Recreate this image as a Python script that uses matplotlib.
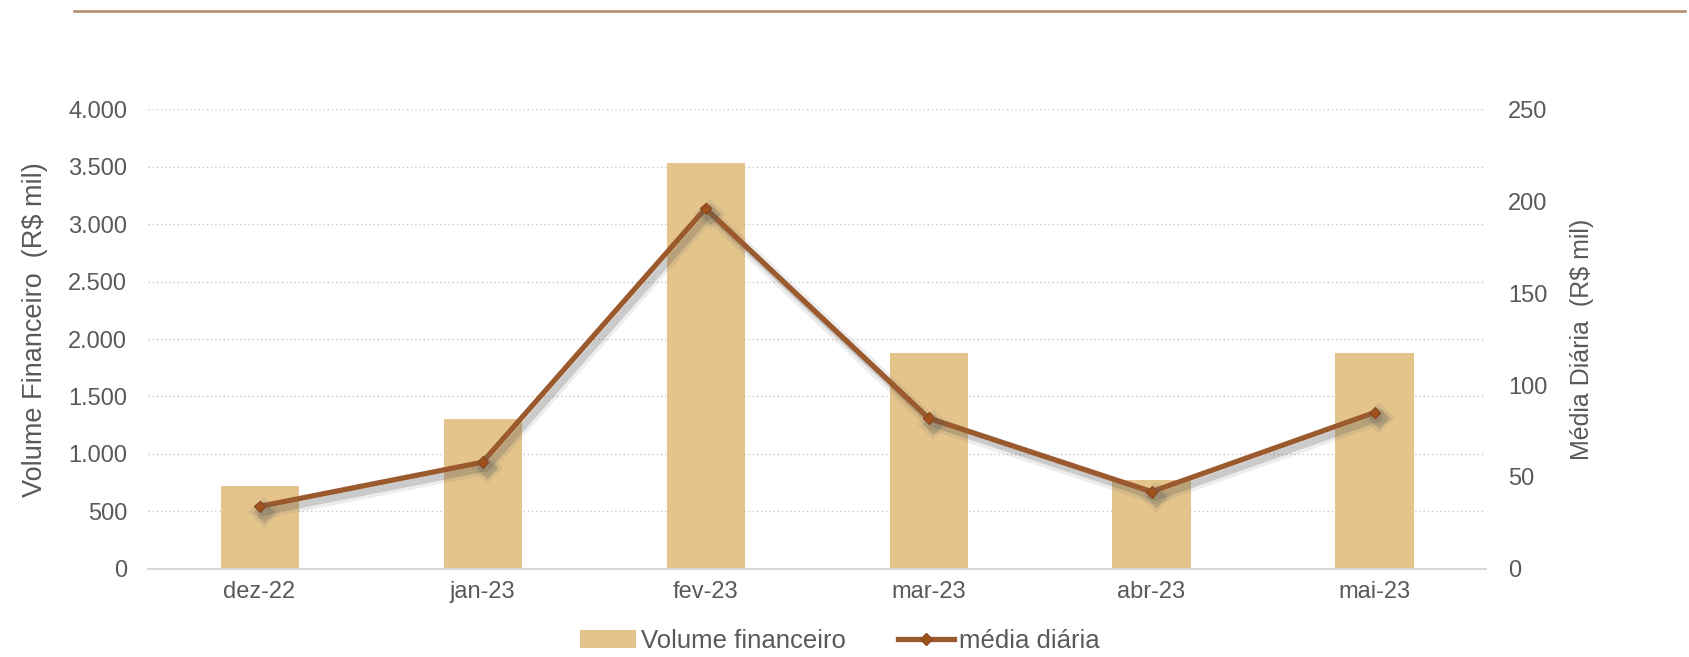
import matplotlib
matplotlib.use("Agg")
import matplotlib.pyplot as plt
import matplotlib.ticker as ticker
import matplotlib.patheffects as pe
from matplotlib.patches import Patch
from matplotlib.lines import Line2D

plt.rcParams['font.family'] = ['Liberation Sans', 'DejaVu Sans']

meses = ['dez-22', 'jan-23', 'fev-23', 'mar-23', 'abr-23', 'mai-23']
volume = [725, 1300, 3530, 1880, 770, 1880]
media = [34, 58, 196, 82, 42, 85]

cor_barra = '#E4C48A'
cor_linha = '#9A5A2E'
cor_texto = '#595959'

fig = plt.figure(figsize=(16.9, 6.57), dpi=100)
ax = fig.add_axes([0.0876, 0.134, 0.7917, 0.700])

x = range(len(meses))
ax.bar(x, volume, width=0.35, color=cor_barra, zorder=2)
ax.set_xlim(-0.5, len(meses) - 0.5)
ax.set_ylim(0, 4000)
ax.yaxis.set_major_locator(ticker.MultipleLocator(500))
ax.yaxis.set_major_formatter(ticker.FuncFormatter(lambda v, _: f"{v:,.0f}".replace(',', '.')))
ax.set_xticks(list(x))
ax.set_xticklabels(meses)
ax.grid(axis='y', linestyle=(0, (1, 2)), color='#C8C8C8', linewidth=1, zorder=0)
ax.tick_params(axis='both', length=0, labelsize=17, colors=cor_texto)
ax.tick_params(axis='y', pad=15)
ax.tick_params(axis='x', pad=9)
for s in ['top', 'left', 'right']:
    ax.spines[s].set_visible(False)
ax.spines['bottom'].set_color('#D9D9D9')
ax.spines['bottom'].set_linewidth(1.5)
ax.set_ylabel('Volume Financeiro  (R$ mil)', fontsize=19.5, color=cor_texto)
ax.yaxis.set_label_coords(-0.0745, 0.52)

ax2 = ax.twinx()
ax2.set_ylim(0, 250)
ax2.yaxis.set_major_locator(ticker.MultipleLocator(50))
ax2.tick_params(axis='y', length=0, labelsize=17, colors=cor_texto, pad=16)
for s in ax2.spines.values():
    s.set_visible(False)
ax2.set_ylabel('Média Diária  (R$ mil)', fontsize=18, color=cor_texto, labelpad=16)

sombra = [pe.SimpleLineShadow(offset=(3, -4), shadow_color='#707070', alpha=0.12, linewidth=10),
          pe.SimpleLineShadow(offset=(3, -4), shadow_color='#505050', alpha=0.22, linewidth=5),
          pe.Normal()]
ax2.plot(list(x), media, color=cor_linha, linewidth=3.8, marker='D', markersize=6,
         markerfacecolor='#A0521C', markeredgecolor='#8B4A22', zorder=3,
         path_effects=sombra)

# linha decorativa no topo
fig.add_artist(Line2D([0.044, 0.997], [0.984, 0.984], color='#B08A6A', linewidth=1.8,
                      transform=fig.transFigure))

handles = [Patch(facecolor=cor_barra, edgecolor='none', label='Volume financeiro'),
           Line2D([], [], color=cor_linha, linewidth=3.8, marker='D', markersize=6,
                  markerfacecolor='#A0521C', markeredgecolor='#8B4A22', label='média diária')]
fig.legend(handles=handles, loc='center', bbox_to_anchor=(0.497, 0.024), ncol=2,
           frameon=False, fontsize=18.5, labelcolor=cor_texto, columnspacing=2.0,
           handlelength=2.2, handletextpad=0.2)

fig.savefig('out.png', dpi=100)
